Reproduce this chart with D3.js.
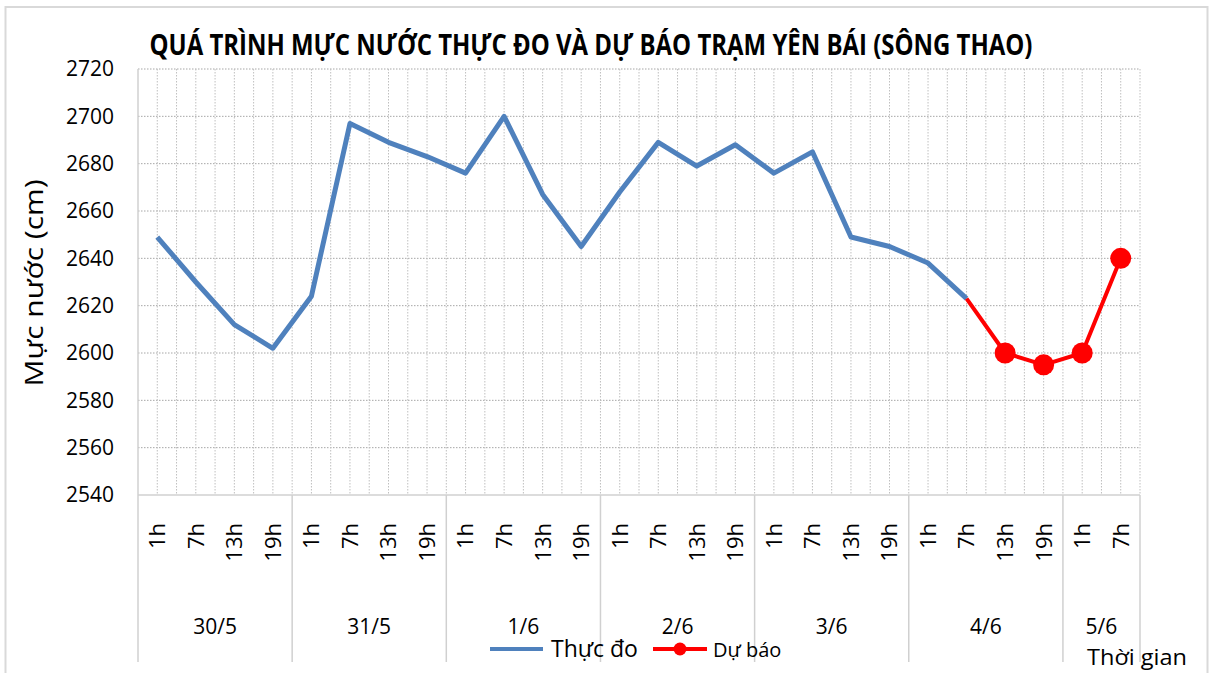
<!DOCTYPE html>
<html>
<head>
<meta charset="utf-8">
<script src="https://cdn.jsdelivr.net/npm/d3@7"></script>
<style>
  html, body { margin: 0; padding: 0; background: #fff; }
  svg { display: block; }
  text { font-family: "Open Sans", "Noto Sans", sans-serif; fill: #000; }
</style>
</head>
<body>
<svg id="chart" width="1210" height="673"></svg>
<script>
// ---- data ----
const days = ["30/5", "31/5", "1/6", "2/6", "3/6", "4/6", "5/6"];
const dayCounts = [4, 4, 4, 4, 4, 4, 2];
const hours = ["1h","7h","13h","19h", "1h","7h","13h","19h", "1h","7h","13h","19h",
               "1h","7h","13h","19h", "1h","7h","13h","19h", "1h","7h","13h","19h",
               "1h","7h"];
const observed = [2649, 2630, 2612, 2602, 2624, 2697, 2689, 2683, 2676, 2700, 2667, 2645,
                  2668, 2689, 2679, 2688, 2676, 2685, 2649, 2645, 2638, 2623];
const forecastStart = 21;
const forecast = [2623, 2600, 2595, 2600, 2640];
const yTicks = [2540, 2560, 2580, 2600, 2620, 2640, 2660, 2680, 2700, 2720];
const title = "QUÁ TRÌNH MỰC NƯỚC THỰC ĐO VÀ DỰ BÁO TRẠM YÊN BÁI (SÔNG THAO)";
const yTitle = "Mực nước (cm)";
const xTitle = "Thời gian";
const legendNames = ["Thực đo", "Dự báo"];

// ---- layout ----
const svg = d3.select("#chart");
const L = 138, R = 1140, T = 69, B = 495;
const idx = d3.range(hours.length);
const x = d3.scaleBand().domain(idx).range([L, R]).paddingInner(0).paddingOuter(0);
const y = d3.scaleLinear().domain([2540, 2720]).range([B, T]);
const cx = i => x(i) + x.bandwidth() / 2;

// outer border
svg.append("rect").attr("x", 5.5).attr("y", 7).attr("width", 1202).attr("height", 690)
  .attr("fill", "#fff").attr("stroke", "#d9d9d9").attr("stroke-width", 2);

// title
svg.append("text").attr("x", 591).attr("y", 55).attr("text-anchor", "middle")
  .attr("font-size", 28).attr("font-weight", "bold")
  .attr("textLength", 883).attr("lengthAdjust", "spacingAndGlyphs")
  .text(title);

// horizontal gridlines
svg.append("g").selectAll("line").data(yTicks.filter(v => v !== 2540)).join("line")
  .attr("x1", L).attr("x2", R).attr("y1", d => y(d)).attr("y2", d => y(d))
  .attr("stroke", "#a6a6a6").attr("stroke-width", 1).attr("stroke-dasharray", "1.5,1.5");

// vertical gridlines at band centers and band boundaries (dotted)
const vPos = [];
idx.forEach(i => { vPos.push(cx(i)); if (i > 0) vPos.push(x(i)); });
vPos.push(R);
svg.append("g").selectAll("line").data(vPos).join("line")
  .attr("x1", d => d).attr("x2", d => d).attr("y1", T).attr("y2", B)
  .attr("stroke", "#bfbfbf").attr("stroke-width", 1).attr("stroke-dasharray", "1.5,1.5");

// left axis line
svg.append("line").attr("x1", L).attr("x2", L).attr("y1", T).attr("y2", B)
  .attr("stroke", "#d0d0d0").attr("stroke-width", 1.5);
// bottom axis line
svg.append("line").attr("x1", L).attr("x2", R).attr("y1", B).attr("y2", B)
  .attr("stroke", "#d0d0d0").attr("stroke-width", 1.5);

// day separators below axis
let acc = 0;
const sepIdx = [0];
dayCounts.forEach(c => { acc += c; sepIdx.push(acc); });
svg.append("g").selectAll("line").data(sepIdx).join("line")
  .attr("x1", d => d < hours.length ? x(d) : R).attr("x2", d => d < hours.length ? x(d) : R)
  .attr("y1", B).attr("y2", 662)
  .attr("stroke", "#d0d0d0").attr("stroke-width", 1.5);

// y axis
const yAxis = svg.append("g").attr("transform", `translate(${L},0)`)
  .call(d3.axisLeft(y).tickValues(yTicks).tickSize(0).tickPadding(24).tickFormat(d3.format("d")));
yAxis.select(".domain").remove();
yAxis.selectAll("text").attr("font-size", 21).attr("font-family", "'Open Sans', sans-serif").attr("fill", "#000");

// x axis (hours, rotated)
const xAxis = svg.append("g").attr("transform", `translate(0,${B})`)
  .call(d3.axisBottom(x).tickSize(0).tickFormat(i => hours[i]));
xAxis.select(".domain").remove();
xAxis.selectAll("text")
  .attr("font-size", 22).attr("font-family", "'Open Sans', sans-serif").attr("fill", "#000")
  .attr("text-anchor", "end").attr("transform", "rotate(-90)")
  .attr("x", -28).attr("y", 0).attr("dy", "0.36em");

// day labels
let start = 0;
const dayCenters = dayCounts.map(c => { const s = start; start += c; return (x(s) + x(s + c - 1) + x.bandwidth()) / 2; });
svg.append("g").selectAll("text").data(days).join("text")
  .attr("x", (d, i) => dayCenters[i]).attr("y", 634).attr("text-anchor", "middle")
  .attr("font-size", 21).text(d => d);

// y title
svg.append("text").attr("transform", "translate(43,283) rotate(-90)").attr("text-anchor", "middle")
  .attr("font-size", 25).attr("fill", "#222")
  .attr("textLength", 207).attr("lengthAdjust", "spacingAndGlyphs").text(yTitle);

// x title
svg.append("text").attr("x", 1087).attr("y", 665).attr("font-size", 22).attr("fill", "#222")
  .attr("textLength", 100).attr("lengthAdjust", "spacingAndGlyphs").text(xTitle);

// lines
const line = d3.line().x(d => cx(d.i)).y(d => y(d.v));
const obsData = observed.map((v, i) => ({ i, v }));
const fcData = forecast.map((v, k) => ({ i: forecastStart + k, v }));

svg.append("path").datum(obsData).attr("d", line).attr("fill", "none")
  .attr("stroke", "#4f81bd").attr("stroke-width", 5).attr("stroke-linejoin", "round");
svg.append("path").datum(fcData).attr("d", line).attr("fill", "none")
  .attr("stroke", "#ff0000").attr("stroke-width", 4).attr("stroke-linejoin", "round");
svg.append("g").selectAll("circle").data(fcData.slice(1)).join("circle")
  .attr("cx", d => cx(d.i)).attr("cy", d => y(d.v)).attr("r", 10.5).attr("fill", "#ff0000");

// legend
const lg = svg.append("g");
lg.append("line").attr("x1", 490).attr("x2", 543).attr("y1", 649).attr("y2", 649)
  .attr("stroke", "#4f81bd").attr("stroke-width", 4);
lg.append("text").attr("x", 551).attr("y", 657).attr("font-size", 23).text(legendNames[0]);
lg.append("line").attr("x1", 653).attr("x2", 707).attr("y1", 649).attr("y2", 649)
  .attr("stroke", "#ff0000").attr("stroke-width", 4);
lg.append("circle").attr("cx", 680).attr("cy", 649).attr("r", 6.5).attr("fill", "#ff0000");
lg.append("text").attr("x", 713).attr("y", 657).attr("font-size", 20).text(legendNames[1]);
</script>
</body>
</html>
